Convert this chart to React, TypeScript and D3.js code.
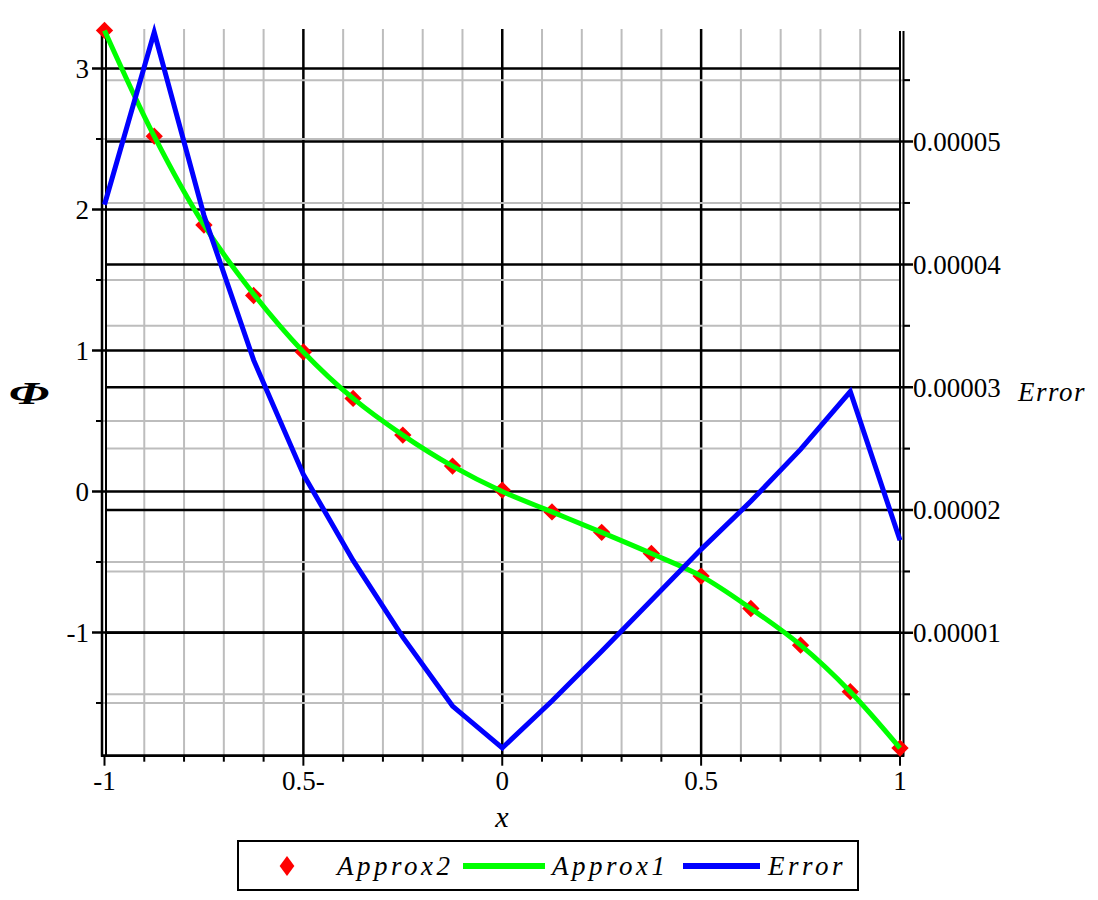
import React from "react";
import * as d3 from "d3";

// ---------- data ----------
const xNodes = [-1, -0.875, -0.75, -0.625, -0.5, -0.375, -0.25, -0.125, 0, 0.125, 0.25, 0.375, 0.5, 0.625, 0.75, 0.875, 1];
const approx2 = [3.27, 2.52, 1.89, 1.39, 0.99, 0.66, 0.4, 0.18, 0.01, -0.145, -0.29, -0.44, -0.6, -0.83, -1.09, -1.42, -1.82];
const approx1 = [3.27, 2.52, 1.89, 1.4, 0.99, 0.66, 0.4, 0.18, 0.0, -0.145, -0.29, -0.44, -0.6, -0.83, -1.09, -1.42, -1.82];
const errorVals = [4.485e-5, 5.89e-5, 4.4e-5, 3.22e-5, 2.29e-5, 1.59e-5, 0.965e-5, 0.404e-5, 0.063e-5, 0.445e-5, 0.851e-5, 1.266e-5, 1.68e-5, 2.071e-5, 2.494e-5, 2.965e-5, 1.754e-5];

const xMajorTicks = [-1, -0.5, 0, 0.5, 1];
const xMajorLabels = ["-1", "0.5-", "0", "0.5", "1"];
const xMinorTicks = [-0.9, -0.8, -0.7, -0.6, -0.4, -0.3, -0.2, -0.1, 0.1, 0.2, 0.3, 0.4, 0.6, 0.7, 0.8, 0.9];
const yLeftMajor = [-1, 0, 1, 2, 3];
const yLeftLabels = ["-1", "0", "1", "2", "3"];
const yLeftMinor = [-1.5, -0.5, 0.5, 1.5, 2.5];
const yRightMajor = [0.00001, 0.00002, 0.00003, 0.00004, 0.00005];
const yRightLabels = ["0.00001", "0.00002", "0.00003", "0.00004", "0.00005"];
const yRightMinor = [0.000005, 0.000015, 0.000025, 0.000035, 0.000045, 0.000055];
const legendNames = ["Approx2", "Approx1", "Error"];

const FONT = "'Liberation Serif', 'Times New Roman', serif";

export default function App() {
  const left = 104.5, right = 900, top = 31, bottom = 755.7;
  const x = d3.scaleLinear().domain([-1, 1]).range([left, right]);
  const yL = d3.scaleLinear().domain([-1.874, 3.266]).range([bottom, top]);
  const yR = d3.scaleLinear().domain([0, 5.9e-5]).range([bottom, top]);

  const gridL = 106, gridR = 900;
  const green = d3.line<number>().x((_, i) => x(xNodes[i])).y((d) => yL(d)).curve(d3.curveCatmullRom);
  const blue = d3.line<number>().x((_, i) => x(xNodes[i])).y((d) => yR(d));
  const diamond = d3.symbol().type(d3.symbolSquare).size(150)();

  const GRAY = "#bdbdbd";
  return (
    <svg width={1098} height={900} style={{ position: "absolute", left: 0, top: 0, background: "#fff" }}>
      {/* vertical gridlines */}
      {xMinorTicks.map((t) => (
        <line key={"vx" + t} x1={x(t)} x2={x(t)} y1={top - 2} y2={bottom} stroke={GRAY} strokeWidth={2} />
      ))}
      {xMajorTicks.slice(1, 4).map((t) => (
        <line key={"vX" + t} x1={x(t)} x2={x(t)} y1={top - 2} y2={bottom} stroke="#000" strokeWidth={2.5} />
      ))}
      {/* horizontal gridlines */}
      {yLeftMinor.map((t) => (
        <line key={"hl" + t} x1={96} x2={gridR} y1={yL(t)} y2={yL(t)} stroke={GRAY} strokeWidth={2} />
      ))}
      {yRightMinor.map((t) => (
        <line key={"hr" + t} x1={gridL} x2={910} y1={yR(t)} y2={yR(t)} stroke={GRAY} strokeWidth={2} />
      ))}
      {yLeftMajor.map((t) => (
        <line key={"HL" + t} x1={92} x2={gridR} y1={yL(t)} y2={yL(t)} stroke="#000" strokeWidth={2.5} />
      ))}
      {yRightMajor.map((t) => (
        <line key={"HR" + t} x1={gridL} x2={913} y1={yR(t)} y2={yR(t)} stroke="#000" strokeWidth={2.5} />
      ))}
      {/* minor tick marks */}
      {yLeftMinor.map((t) => (
        <line key={"tl" + t} x1={96} x2={102} y1={yL(t)} y2={yL(t)} stroke="#000" strokeWidth={2} />
      ))}
      {yRightMinor.map((t) => (
        <line key={"tr" + t} x1={903} x2={910} y1={yR(t)} y2={yR(t)} stroke="#000" strokeWidth={2} />
      ))}
      {xMinorTicks.map((t) => (
        <line key={"tx" + t} x1={x(t)} x2={x(t)} y1={bottom} y2={bottom + 6} stroke="#000" strokeWidth={2} />
      ))}
      {xMajorTicks.map((t) => (
        <line key={"tX" + t} x1={x(t)} x2={x(t)} y1={bottom} y2={bottom + 10} stroke="#000" strokeWidth={2} />
      ))}
      {/* frame */}
      <line x1={102} x2={102} y1={top} y2={bottom + 1} stroke="#000" strokeWidth={2.5} />
      <line x1={106} x2={106} y1={top} y2={bottom + 1} stroke="#000" strokeWidth={2} />
      <line x1={900} x2={900} y1={top} y2={bottom + 1} stroke="#000" strokeWidth={2} />
      <line x1={903.5} x2={903.5} y1={top} y2={bottom + 1} stroke="#000" strokeWidth={2} />
      <line x1={101} x2={904} y1={bottom} y2={bottom} stroke="#000" strokeWidth={2.7} />

      {/* series */}
      {approx2.map((v, i) => (
        <path key={"d" + i} d={diamond!} transform={`translate(${x(xNodes[i])},${yL(v)}) rotate(45)`} fill="#ff0000" />
      ))}
      <path d={green(approx1)!} fill="none" stroke="#00ff00" strokeWidth={5} />
      <path d={blue(errorVals)!} fill="none" stroke="#0000ff" strokeWidth={5} strokeLinejoin="miter" />

      {/* tick labels */}
      {yLeftMajor.map((t, i) => (
        <text key={"ll" + t} x={89} y={yL(t)} dy="0.35em" textAnchor="end" fontFamily={FONT} fontSize={27}>
          {yLeftLabels[i]}
        </text>
      ))}
      {yRightMajor.map((t, i) => (
        <text key={"rl" + t} x={913} y={yR(t)} dy="0.35em" textAnchor="start" fontFamily={FONT} fontSize={27}>
          {yRightLabels[i]}
        </text>
      ))}
      {xMajorTicks.map((t, i) => (
        <text key={"xl" + t} x={x(t)} y={790} textAnchor="middle" fontFamily={FONT} fontSize={27}>
          {xMajorLabels[i]}
        </text>
      ))}
      {/* axis titles */}
      <text x={502} y={827} textAnchor="middle" fontFamily={FONT} fontSize={30} fontStyle="italic">x</text>
      <g transform="translate(29,393) scale(1.6,1)">
        <text x={0} y={0} dy="0.35em" textAnchor="middle" fontFamily={FONT} fontSize={32} fontStyle="italic" fontWeight="bold">Φ</text>
      </g>
      <text x={1018} y={401} textAnchor="start" fontFamily={FONT} fontSize={27} fontStyle="italic" letterSpacing={1.5}>Error</text>

      {/* legend */}
      <rect x={238} y={841} width={620} height={49} fill="#fff" stroke="#000" strokeWidth={2} />
      <path d={diamond!} transform="translate(287,866) scale(0.85,1.15) rotate(45)" fill="#ff0000" />
      <text x={337} y={875} fontFamily={FONT} fontSize={27} fontStyle="italic" letterSpacing={3.5}>{legendNames[0]}</text>
      <line x1={463} x2={545} y1={866} y2={866} stroke="#00ff00" strokeWidth={6} />
      <text x={552} y={875} fontFamily={FONT} fontSize={27} fontStyle="italic" letterSpacing={3.5}>{legendNames[1]}</text>
      <line x1={683} x2={760} y1={866} y2={866} stroke="#0000ff" strokeWidth={6} />
      <text x={768} y={875} fontFamily={FONT} fontSize={27} fontStyle="italic" letterSpacing={3.5}>{legendNames[2]}</text>
    </svg>
  );
}
